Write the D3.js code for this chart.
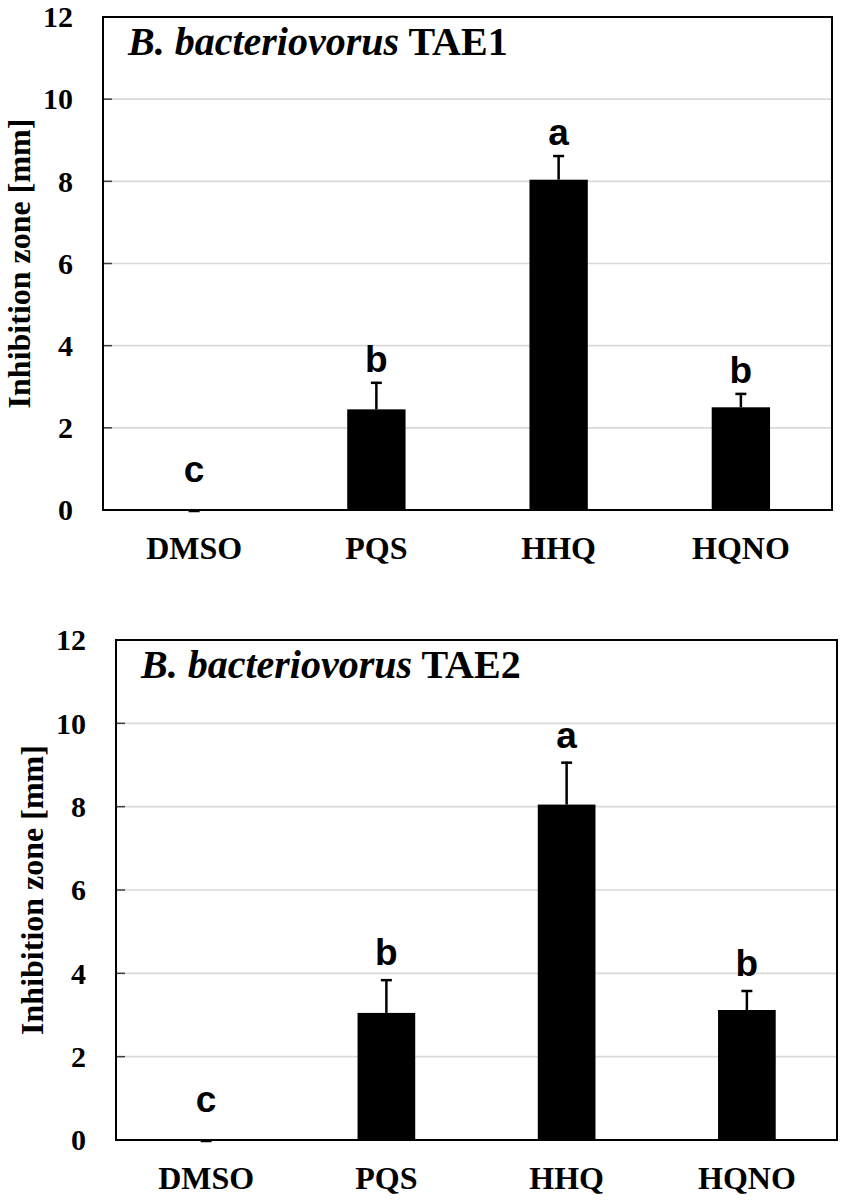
<!DOCTYPE html>
<html>
<head>
<meta charset="utf-8">
<script src="https://cdn.jsdelivr.net/npm/d3@7"></script>
<style>
	body { margin: 0; background: #fff; }
	svg { display: block; }
	.tick-lbl, .cat-lbl, .y-title, .panel-title { font-family: "Liberation Serif", "Times New Roman", serif; font-weight: bold; }
	.sig-lbl { font-family: "Liberation Sans", Arial, sans-serif; font-weight: bold; }
</style>
</head>
<body>
<div id="chart"></div>
<script>
	// ---------- data
	const categories = ["DMSO", "PQS", "HHQ", "HQNO"];
	const yTicks = [0, 2, 4, 6, 8, 10, 12];

	const meansTAE1 = [0, 2.45, 8.04, 2.50];
	const sdTAE1 = [0, 0.67, 0.60, 0.35];
	const lettersTAE1 = ["c", "b", "a", "b"];

	const meansTAE2 = [0, 3.05, 8.05, 3.12];
	const sdTAE2 = [0, 0.81, 1.03, 0.48];
	const lettersTAE2 = ["c", "b", "a", "b"];

	const W = 841, H = 1201;

	const svg = d3.select("#chart").append("svg")
		.attr("width", W)
		.attr("height", H);

	//-----------------------------------
	function drawPanel(opt) {
		let x, y, g, rows;

		x = d3.scaleBand()
			.domain(categories)
			.range([opt.left, opt.right])
			.paddingInner(0.68)
			.paddingOuter(0.34);

		y = d3.scaleLinear()
			.domain([0, 12])
			.range([opt.bottom, opt.top]);

		g = svg.append("g");

		// gridlines
		g.selectAll("line.grid")
			.data(yTicks.filter(t => t > 0 && t < 12))
			.enter().append("line")
			.attr("class", "grid")
			.attr("x1", opt.left).attr("x2", opt.right)
			.attr("y1", d => y(d)).attr("y2", d => y(d))
			.attr("stroke", "#d9d9d9")
			.attr("stroke-width", 1.6);

		// inner tick marks on the left
		g.selectAll("line.tk")
			.data(yTicks)
			.enter().append("line")
			.attr("class", "tk")
			.attr("x1", opt.left).attr("x2", opt.left + 9)
			.attr("y1", d => y(d)).attr("y2", d => y(d))
			.attr("stroke", "#404040")
			.attr("stroke-width", 1.5);

		// tick labels
		g.selectAll("text.tick-lbl")
			.data(yTicks)
			.enter().append("text")
			.attr("class", "tick-lbl")
			.attr("x", opt.left - 30)
			.attr("y", d => y(d))
			.attr("dy", "0.34em")
			.attr("text-anchor", "end")
			.attr("font-size", 30)
			.text(d => d);

		rows = categories.map((c, i) => ({ cat: c, mean: opt.means[i], sd: opt.sds[i], letter: opt.letters[i] }));

		// bars
		g.selectAll("rect.bar")
			.data(rows)
			.enter().append("rect")
			.attr("class", "bar")
			.attr("x", d => x(d.cat))
			.attr("width", x.bandwidth())
			.attr("y", d => y(d.mean))
			.attr("height", d => y(0) - y(d.mean))
			.attr("fill", "#000");

		// error bars (upper only)
		g.selectAll("line.err")
			.data(rows)
			.enter().append("line")
			.attr("class", "err")
			.attr("x1", d => x(d.cat) + x.bandwidth() / 2)
			.attr("x2", d => x(d.cat) + x.bandwidth() / 2)
			.attr("y1", d => y(d.mean))
			.attr("y2", d => y(d.mean + d.sd))
			.attr("stroke", "#000")
			.attr("stroke-width", 2.5);

		g.selectAll("line.cap")
			.data(rows)
			.enter().append("line")
			.attr("class", "cap")
			.attr("x1", d => x(d.cat) + x.bandwidth() / 2 - 5.5)
			.attr("x2", d => x(d.cat) + x.bandwidth() / 2 + 5.5)
			.attr("y1", d => y(d.mean + d.sd) + 1)
			.attr("y2", d => y(d.mean + d.sd) + 1)
			.attr("stroke", "#000")
			.attr("stroke-width", 2.5);

		// significance letters
		g.selectAll("text.sig-lbl")
			.data(rows)
			.enter().append("text")
			.attr("class", "sig-lbl")
			.attr("x", d => x(d.cat) + x.bandwidth() / 2)
			.attr("y", d => Math.min(y(d.mean + d.sd) - opt.letterGap, y(0) - 28))
			.attr("text-anchor", "middle")
			.attr("font-size", 37)
			.text(d => d.letter);

		// category labels
		g.selectAll("text.cat-lbl")
			.data(categories)
			.enter().append("text")
			.attr("class", "cat-lbl")
			.attr("x", d => x(d) + x.bandwidth() / 2)
			.attr("y", opt.bottom + 49)
			.attr("text-anchor", "middle")
			.attr("font-size", 32)
			.text(d => d);

		// frame
		g.append("rect")
			.attr("x", opt.left)
			.attr("y", opt.top)
			.attr("width", opt.right - opt.left)
			.attr("height", opt.bottom - opt.top)
			.attr("fill", "none")
			.attr("stroke", "#000")
			.attr("stroke-width", 2);

		// y-axis title
		g.append("text")
			.attr("class", "y-title")
			.attr("transform", "translate(" + opt.yTitleX + "," + ((opt.top + opt.bottom) / 2) + ") rotate(-90)")
			.attr("text-anchor", "middle")
			.attr("font-size", 32)
			.text("Inhibition zone [mm]");

		// panel title
		let t = g.append("text")
			.attr("class", "panel-title")
			.attr("x", opt.left + 25)
			.attr("y", opt.top + 38)
			.attr("font-size", 40);
		t.append("tspan").attr("font-style", "italic").text("B. bacteriovorus");
		t.append("tspan").text(" " + opt.strain);
	}

	drawPanel({
		left: 103, right: 832, top: 17, bottom: 510,
		means: meansTAE1, sds: sdTAE1, letters: lettersTAE1,
		strain: "TAE1", yTitleX: 30, letterGap: 10
	});

	drawPanel({
		left: 116, right: 837, top: 640, bottom: 1140,
		means: meansTAE2, sds: sdTAE2, letters: lettersTAE2,
		strain: "TAE2", yTitleX: 43, letterGap: 14
	});
</script>
</body>
</html>
